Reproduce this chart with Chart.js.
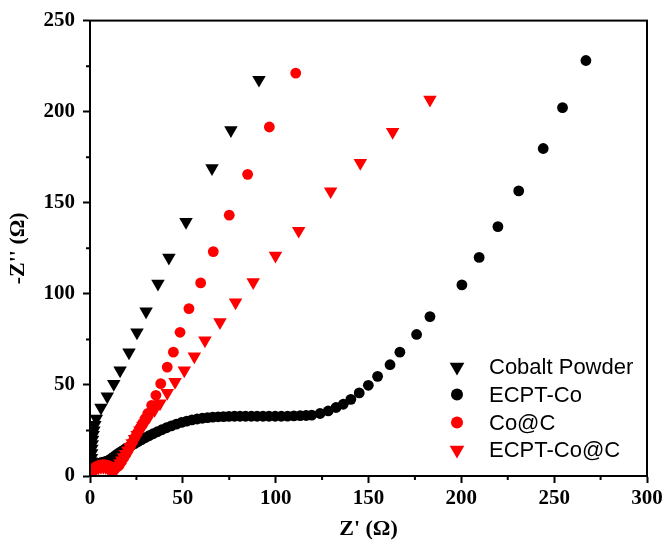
<!DOCTYPE html>
<html>
<head>
<meta charset="utf-8">
<script src="https://cdn.jsdelivr.net/npm/chart.js@4.4.1/dist/chart.umd.min.js"></script>
<style>
  html, body { margin: 0; padding: 0; background: #fff; }
  #wrap { width: 668px; height: 546px; }
</style>
</head>
<body>
<div id="wrap"><canvas id="chart"></canvas></div>
<script>
// series names
const seriesNames = ['Cobalt Powder', 'ECPT-Co', 'Co@C', 'ECPT-Co@C']

// Cobalt Powder
const cobaltX = [0.3, 0.4, 0.5, 0.6, 0.7, 0.8, 0.9, 1.0, 1.2, 1.4, 1.7, 2.1, 2.6, 3.4, 5.9, 9.3, 12.8, 16.2, 21.0, 25.3, 30.2, 36.6, 42.5, 51.7, 65.7, 75.9, 91.0]
const cobaltY = [0.5, 2, 4, 6, 8, 10, 12.5, 15, 17.5, 20, 22.5, 25, 28, 31.5, 37.5, 43.7, 50.5, 58, 67.8, 78.8, 90.3, 105.6, 119.8, 139.5, 169, 189.8, 217.5]

// ECPT-Co
const ecptX = [0.8, 1.3, 2.0, 2.8, 3.8, 5.0, 6.3, 7.6, 9.0, 10.3, 11.5, 12.7, 13.9, 15.1, 16.4, 17.8, 19.2, 20.7, 22.3, 24.0, 25.8, 27.7, 29.7, 31.8, 34.0, 36.3, 38.7, 41.2, 43.8, 46.5, 49.3, 52.1, 54.9, 57.7, 60.5, 63.3, 66.1, 69.0, 71.9, 74.8, 77.8, 80.8, 83.8, 86.9, 90.0, 93.2, 96.4, 99.7, 103.0, 106.4, 109.8, 113.2, 116.4, 119.4, 123.9, 128.3, 132.5, 136.4, 140.5, 145.0, 149.9, 154.9, 161.6, 166.9, 175.9, 183.1, 200.3, 209.6, 219.7, 230.9, 244.1, 254.5, 267.1]
const ecptY = [1, 2.5, 4, 5.3, 6.3, 7, 7.5, 7.8, 8.2, 8.8, 9.6, 10.5, 11.4, 12.3, 13.2, 14.1, 15, 15.9, 16.8, 17.8, 18.8, 19.9, 21, 22.1, 23.2, 24.3, 25.4, 26.5, 27.5, 28.5, 29.4, 30.1, 30.8, 31.3, 31.7, 32, 32.3, 32.5, 32.6, 32.7, 32.8, 32.8, 32.8, 32.8, 32.8, 32.8, 32.8, 32.8, 32.8, 32.9, 33, 33.1, 33.2, 33.4, 34.3, 35.7, 37.6, 39.4, 42.1, 45.6, 49.8, 54.7, 61.1, 68, 77.7, 87.5, 104.9, 120, 136.9, 156.5, 179.8, 202.2, 228.1]

// Co@C
const cocX = [0.6, 0.9, 1.4, 2.1, 3.0, 4.1, 5.3, 6.6, 7.9, 9.2, 10.4, 11.5, 12.4, 13.2, 14.0, 14.9, 15.8, 17.0, 18.2, 19.4, 20.6, 21.8, 23.0, 24.3, 25.6, 27.0, 28.3, 29.7, 31.1, 33.2, 35.5, 38.1, 41.6, 44.9, 48.5, 53.3, 59.6, 66.4, 75.0, 84.9, 96.6, 110.8]
const cocY = [0.5, 1.8, 3, 4.1, 5, 5.6, 6, 6.2, 6.2, 6, 5.6, 5, 4.5, 4.4, 4.8, 5.3, 6, 8, 10, 12, 14.2, 16.4, 18.8, 21.3, 23.8, 26.5, 28.9, 31.5, 34.3, 38.8, 44.3, 50.7, 59.8, 68, 78.9, 91.9, 106, 123.2, 143.2, 165.6, 191.6, 221.2]

// ECPT-Co@C
const ecptcX = [0.7, 1.0, 1.6, 2.4, 3.4, 4.6, 5.9, 7.2, 8.5, 9.7, 10.8, 11.8, 12.7, 13.5, 14.3, 15.2, 16.1, 17.1, 18.1, 19.2, 20.3, 21.5, 22.7, 24.0, 25.4, 26.9, 28.5, 30.2, 32.0, 34.8, 37.7, 41.6, 45.8, 50.8, 56.2, 61.9, 70.0, 78.4, 87.9, 99.9, 112.4, 129.6, 145.6, 163.0, 183.1]
const ecptcY = [0.4, 1.5, 2.6, 3.5, 4.2, 4.7, 5, 5, 4.8, 4.3, 3.6, 3, 2.8, 3.3, 4.3, 5.6, 7, 8.6, 10.3, 12.1, 14, 16, 18.1, 20.3, 22.6, 25, 27.5, 30.1, 32.8, 36.3, 39.8, 45.6, 51.6, 58, 65.6, 74.4, 84.4, 95.3, 106.4, 120.9, 134.6, 156.3, 171.9, 188.9, 206.6]

const xTicks = [0, 50, 100, 150, 200, 250, 300]
const yTicks = [0, 50, 100, 150, 200, 250]

const pts = (xs, ys) => xs.map((x, i) => ({x: x, y: ys[i]}))

const tickFont = {family: "'Liberation Serif', 'Times New Roman', serif", size: 21, weight: 'bold'}
const titleFont = {family: "'Liberation Serif', 'Times New Roman', serif", size: 22, weight: 'bold'}

// minor ticks (length 4) and the box around the plot
const framePlugin = {
    id: 'frame',
    afterDraw(chart) {
        const ctx = chart.ctx
        const a = chart.chartArea
        const sx = chart.scales.x
        const sy = chart.scales.y
        ctx.save()
        ctx.strokeStyle = '#000'
        ctx.lineWidth = 2
        ctx.strokeRect(a.left, a.top, a.right - a.left, a.bottom - a.top)
        ctx.beginPath()
        for (let v = 25; v < 300; v += 50) {
            const px = sx.getPixelForValue(v)
            ctx.moveTo(px, a.bottom)
            ctx.lineTo(px, a.bottom + 4)
        }
        for (let v = 25; v < 250; v += 50) {
            const py = sy.getPixelForValue(v)
            ctx.moveTo(a.left, py)
            ctx.lineTo(a.left - 4, py)
        }
        ctx.stroke()
        ctx.restore()
    }
}

// legend in the lower right of the plot
const legendPlugin = {
    id: 'boxLegend',
    afterDatasetsDraw(chart) {
        const ctx = chart.ctx
        const rowsY = [367, 394.5, 422.5, 450]
        const mx = 457
        const tx = 489
        ctx.save()
        ctx.font = "22px 'Liberation Sans', Arial, sans-serif"
        ctx.textBaseline = 'middle'
        chart.data.datasets.forEach((ds, i) => {
            const y = rowsY[i]
            ctx.fillStyle = ds.pointBackgroundColor
            ctx.beginPath()
            if (ds.pointStyle === 'circle') {
                ctx.arc(mx, y, 6, 0, Math.PI * 2)
            } else {
                const r = 8.5
                ctx.moveTo(mx, y + r)
                ctx.lineTo(mx - r * 0.866, y - r * 0.5)
                ctx.lineTo(mx + r * 0.866, y - r * 0.5)
                ctx.closePath()
            }
            ctx.fill()
            ctx.fillStyle = '#000'
            ctx.fillText(ds.label, tx, y + 1)
        })
        ctx.restore()
    }
}

const chart = document.getElementById('chart').getContext('2d')

new Chart(chart, {
    type: 'scatter',
    data: {
        datasets: [
            {
                label: seriesNames[0],
                data: pts(cobaltX, cobaltY),
                pointStyle: 'triangle',
                rotation: 180,
                pointRadius: 7.8,
                pointBorderWidth: 0,
                pointBackgroundColor: '#000000',
                pointBorderColor: '#000000',
                order: 3
            },
            {
                label: seriesNames[1],
                data: pts(ecptX, ecptY),
                pointStyle: 'circle',
                pointRadius: 5.4,
                pointBorderWidth: 0,
                pointBackgroundColor: '#000000',
                pointBorderColor: '#000000',
                order: 2
            },
            {
                label: seriesNames[2],
                data: pts(cocX, cocY),
                pointStyle: 'circle',
                pointRadius: 5.4,
                pointBorderWidth: 0,
                pointBackgroundColor: '#ff0000',
                pointBorderColor: '#ff0000',
                order: 0
            },
            {
                label: seriesNames[3],
                data: pts(ecptcX, ecptcY),
                pointStyle: 'triangle',
                rotation: 180,
                pointRadius: 7.8,
                pointBorderWidth: 0,
                pointBackgroundColor: '#ff0000',
                pointBorderColor: '#ff0000',
                order: 1
            }
        ]
    },
    options: {
        responsive: true,
        maintainAspectRatio: false,
        animation: false,
        layout: {padding: {top: 19, right: 21, left: 0, bottom: 0}},
        plugins: {
            legend: {display: false},
            tooltip: {enabled: false}
        },
        scales: {
            x: {
                type: 'linear',
                min: 0,
                max: 300,
                afterBuildTicks: s => { s.ticks = xTicks.map(v => ({value: v})) },
                afterFit: s => { s.height = 70 },
                ticks: {color: '#000', font: tickFont, padding: 3, maxRotation: 0, autoSkip: false},
                grid: {drawOnChartArea: false, tickLength: 7, tickWidth: 2, tickColor: '#000'},
                border: {color: '#000', width: 2},
                title: {display: true, text: "Z' (\u03A9)", color: '#000', font: titleFont, padding: {top: 0, bottom: 3}}
            },
            y: {
                type: 'linear',
                min: 0,
                max: 250,
                afterBuildTicks: s => { s.ticks = yTicks.map(v => ({value: v})) },
                afterFit: s => { s.width = 90 },
                ticks: {color: '#000', font: tickFont, padding: 8, autoSkip: false},
                grid: {drawOnChartArea: false, tickLength: 7, tickWidth: 2, tickColor: '#000'},
                border: {color: '#000', width: 2},
                title: {display: true, text: "-Z'' (\u03A9)", color: '#000', font: titleFont, padding: {top: 5, bottom: 0}}
            }
        }
    },
    plugins: [framePlugin, legendPlugin]
})
</script>
</body>
</html>
